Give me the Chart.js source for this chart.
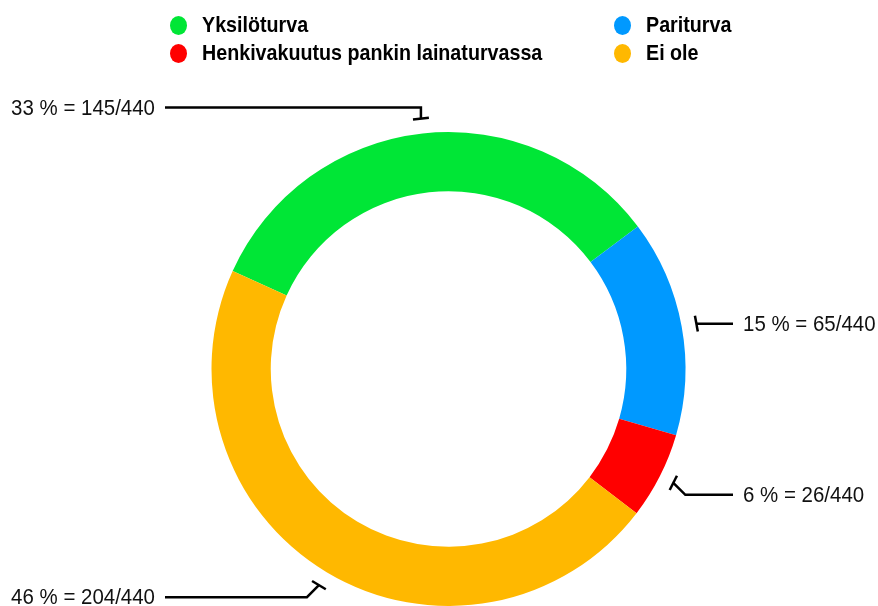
<!DOCTYPE html>
<html>
<head>
<meta charset="utf-8">
<script src="https://cdn.jsdelivr.net/npm/chart.js@4"></script>
<style>
  html, body { margin: 0; padding: 0; background: #fff; }
  #wrap { position: relative; width: 878px; height: 606px; overflow: hidden; }
  #c { position: absolute; left: 0; top: 0; }
  .lg { position: absolute; display: flex; align-items: center; height: 24px;
        font-family: "Liberation Sans", Arial, sans-serif;
        font-weight: bold; font-size: 22px; color: #000; white-space: nowrap; }
  .lg i { display: inline-block; width: 17px; height: 19px; border-radius: 50%; margin-right: 15px; flex: none; }
  .lg span { display: inline-block; transform: scaleX(0.895); transform-origin: left center; }
</style>
</head>
<body>
<div id="wrap">
  <canvas id="c" width="878" height="606"></canvas>
</div>
<script>
const categories = ["Yksilöturva", "Pariturva", "Henkivakuutus pankin lainaturvassa", "Ei ole"];
const values = [145, 65, 26, 204];
const colors = ["#00E636", "#0099FF", "#FF0000", "#FFB800"];
const total = values.reduce((a, b) => a + b, 0);

// HTML legend, two columns
const legendPos = [[170, 13], [614, 13], [170, 41], [614, 41]];
const wrap = document.getElementById('wrap');
categories.forEach((name, i) => {
  const d = document.createElement('div');
  d.className = 'lg';
  d.style.left = legendPos[i][0] + 'px';
  d.style.top = legendPos[i][1] + 'px';
  const dot = document.createElement('i');
  dot.style.background = colors[i];
  d.appendChild(dot);
  const s = document.createElement('span');
  s.textContent = name;
  d.appendChild(s);
  wrap.appendChild(d);
});

const leaderPlugin = {
  id: 'leaders',
  afterDatasetsDraw(chart) {
    const ctx = chart.ctx;
    const meta = chart.getDatasetMeta(0);
    ctx.save();
    ctx.strokeStyle = '#000';
    ctx.lineWidth = 2.5;
    meta.data.forEach((arc, i) => {
      const p = arc.getProps(['x', 'y', 'startAngle', 'endAngle', 'outerRadius'], true);
      const a = (p.startAngle + p.endAngle) / 2;
      const dx = Math.cos(a), dy = Math.sin(a);
      const r1 = p.outerRadius + 15;
      const P = [p.x + r1 * dx, p.y + r1 * dy];
      let sx = 0, sy = 0;
      if (Math.abs(dy) < 0.3) { sx = 0; sy = 0; }
      else if (Math.abs(dx) < 0.3) { sx = 0; sy = Math.sign(dy) * 11; }
      else { sx = Math.sign(dx) * 12; sy = Math.sign(dy) * 12; }
      const Q = [P[0] + sx, P[1] + sy];
      const right = dx > 0;
      const endX = right ? 733 : 165;
      // T bar
      ctx.beginPath();
      ctx.moveTo(P[0] - 8 * dy, P[1] + 8 * dx);
      ctx.lineTo(P[0] + 8 * dy, P[1] - 8 * dx);
      ctx.stroke();
      // stem and horizontal
      ctx.beginPath();
      ctx.moveTo(P[0], P[1]);
      ctx.lineTo(Q[0], Q[1]);
      ctx.lineTo(endX, Q[1]);
      ctx.stroke();
      const pct = Math.round(values[i] / total * 100);
      const txt = pct + ' % = ' + values[i] + '/' + total;
      ctx.save();
      ctx.fillStyle = '#111';
      ctx.font = '22px "Liberation Sans", Arial, sans-serif';
      ctx.textBaseline = 'middle';
      ctx.textAlign = right ? 'left' : 'right';
      const tx = right ? 743 : 155;
      ctx.translate(tx, Q[1] + 1);
      ctx.scale(0.93, 1);
      ctx.fillText(txt, 0, 0);
      ctx.restore();
    });
    ctx.restore();
  }
};

new Chart(document.getElementById('c'), {
  type: 'doughnut',
  data: {
    labels: categories,
    datasets: [{
      data: values,
      backgroundColor: colors,
      borderWidth: 0,
      hoverOffset: 0
    }]
  },
  options: {
    responsive: false,
    devicePixelRatio: 1,
    animation: false,
    cutout: '75%',
    rotation: -65.6,
    layout: { padding: { left: 211, right: 192, top: 132, bottom: -1 } },
    plugins: { legend: { display: false }, tooltip: { enabled: false } },
    events: []
  },
  plugins: [leaderPlugin]
});
</script>
</body>
</html>
